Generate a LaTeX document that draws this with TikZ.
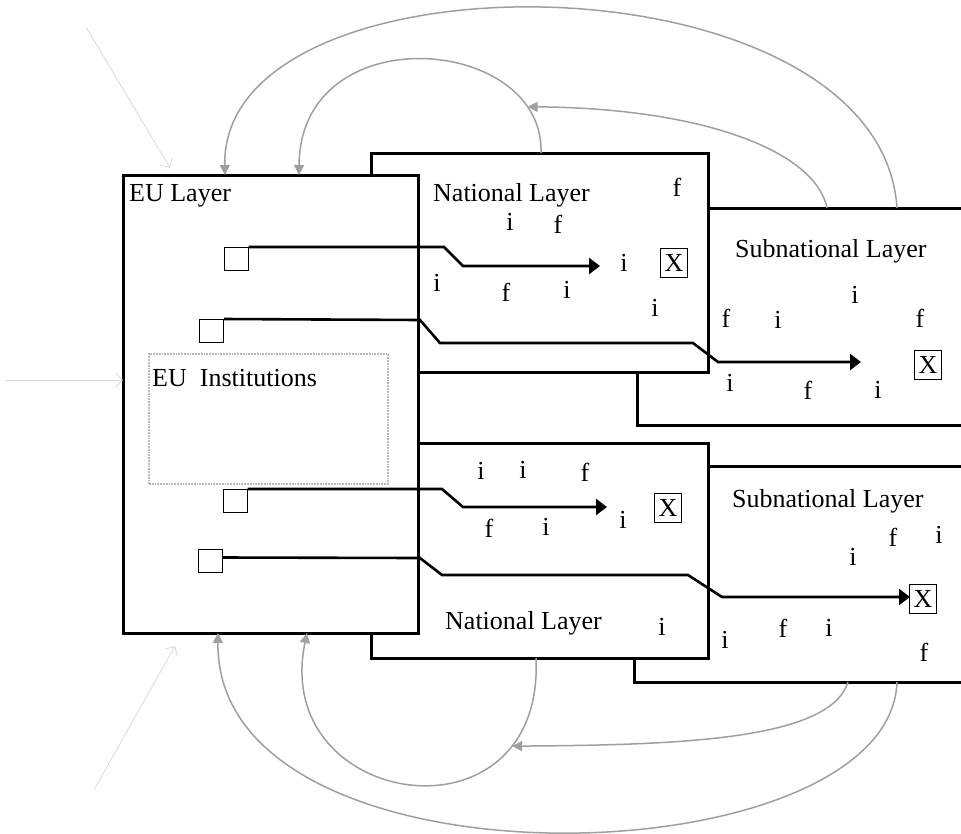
\documentclass[tikz,border=0pt]{standalone}
\usepackage{fontspec}
\setmainfont{Liberation Serif}
\usepackage{tikz}
\usetikzlibrary{arrows.meta}

\begin{document}
\begin{tikzpicture}[x=1pt,y=-1pt,
    font=\fontsize{26}{29}\selectfont,
    layer/.style={draw,fill=white,line width=3pt,anchor=north west,inner sep=0pt,outer sep=0pt},
    sqr/.style={draw,fill=white,line width=1pt,minimum width=24pt,minimum height=23pt,inner sep=0pt},
    xbox/.style={draw,line width=1pt,minimum width=27pt,minimum height=29pt,inner sep=0pt},
    lbl/.style={anchor=north west,inner sep=0pt},
    flow/.style={line width=2.6pt,-{Triangle[length=11pt,width=16pt]}},
    loop/.style={gray!75,line width=1.5pt,-{Triangle[length=10pt,width=10pt]}},
    faint/.style={gray!30,line width=0.8pt,-{Straight Barb[length=7pt]}}]
    \clip (0,0) rectangle (961,833);

    % Layers (back to front)
    \node[layer,minimum width=340pt,minimum height=217pt] (sub1) at (637,208) {};
    \node[layer,minimum width=340pt,minimum height=216pt] (sub2) at (634,466) {};
    \node[layer,minimum width=337pt,minimum height=219pt] (nat1) at (371,153) {};
    \node[layer,minimum width=337pt,minimum height=215pt] (nat2) at (371,443) {};
    \node[layer,minimum width=295pt,minimum height=458pt] (eu) at (123,175) {};
    \node[draw=gray!55,densely dotted,line width=1.8pt,anchor=north west,
          minimum width=239pt,minimum height=130pt,inner sep=0pt] (inst) at (148,353) {};

    % Layer names
    \node[lbl] (euname) at (129,184) {EU Layer};
    \node[lbl] (natname1) at (433,183) {National Layer};
    \node[lbl] (subname1) at (735,239) {Subnational Layer};
    \node[lbl] (instname) at (152,369) {EU\ \ Institutions};
    \node[lbl] (natname2) at (445,611) {National Layer};
    \node[lbl] (subname2) at (732,489) {Subnational Layer};

    % Policy boxes in the EU layer
    \node[sqr] (sq1) at (236,259) {};
    \node[sqr] (sq2) at (211.5,331) {};
    \node[sqr] (sq3) at (235,501) {};
    \node[sqr] (sq4) at (210,560.5) {};

    % Outcomes
    \node[xbox] (x1) at (674,263) {X};
    \node[xbox] (x2) at (928,365) {X};
    \node[xbox] (x3) at (668,508) {X};
    \node[xbox] (x4) at (923,599) {X};

    \coordinate (t1) at (600,266);
    \coordinate (t2) at (861,362);
    \coordinate (t3) at (607,507);
    \coordinate (t4) at (910,597);

    % Implementation paths
    \draw[flow] (sq1.north east) -- (444,247) -- (463,266) -- (t1);
    \draw[flow] (sq2.north east) -- (420,320) -- (440,343) -- (693,343) -- (718,362) -- (t2);
    \draw[flow] (sq3.north east) -- (442,489) -- (463,507) -- (t3);
    \draw[flow] ([yshift=-9pt]sq4.north east) -- (420,558) -- (442,575) -- (688,575) -- (722,597) -- (t4);

    % Actors scattered in the layers
    \foreach \x/\y/\t [count=\k] in {510/222/i, 558/224/f, 437/283/i, 506/292/f, 567/290/i,
        624/263/i, 655/308/i, 677/187/f,
        855/295/i, 726/318/f, 778/320/i, 920/318/f, 730/383/i, 808/390/f, 878/390/i,
        481/471/i, 523/470/i, 585/472/f, 489/528/f, 546/527/i, 623/520/i, 662/627/i,
        893/537/f, 939/535/i, 853/557/i, 725/640/i, 783/628/f, 829/628/i, 924/652/f}
        \node[inner sep=0pt] (ch\k) at (\x,\y) {\t};

    % Feedback from below (top side)
    \draw[loop] ([xshift=260pt]sub1.north west) .. controls (880,-50) and (220,-55) .. ([xshift=102pt]eu.north west);
    \draw[loop] ([xshift=170pt]nat1.north west) .. controls (545,35) and (300,15) .. ([xshift=176pt]eu.north west)
        coordinate[pos=0.15] (m1);
    \draw[loop] ([xshift=190pt]sub1.north west) .. controls (815,150) and (700,108) .. (m1);

    % Feedback from below (bottom side)
    \draw[loop] ([xshift=263pt]sub2.south west) .. controls (890,880) and (215,900) .. ([xshift=95pt]eu.south west);
    \draw[loop] ([xshift=165pt]nat2.south west) .. controls (545,850) and (270,810) .. ([xshift=184pt]eu.south west)
        coordinate[pos=0.2] (m2);
    \draw[loop] ([xshift=214pt]sub2.south west) .. controls (830,740) and (680,745) .. (m2);

    % Outside pressures
    \coordinate (w1) at (86,27);
    \coordinate (w2) at (5,380);
    \coordinate (w3) at (94,790);
    \draw[faint] (w1) -- ([xshift=47pt,yshift=7pt]eu.north west);
    \draw[faint] (w2) -- (eu.west |- w2);
    \draw[faint] (w3) -- ([xshift=52pt,yshift=-13pt]eu.south west);
\end{tikzpicture}
\end{document}
